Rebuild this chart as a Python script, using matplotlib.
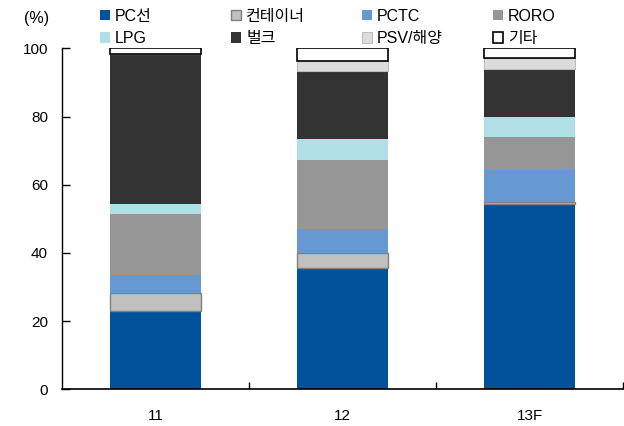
import matplotlib
matplotlib.use('Agg')
import matplotlib.pyplot as plt
import numpy as np

plt.rcParams['font.family'] = ['Liberation Sans', 'Noto Sans CJK KR']

# 데이터 (%)
years = ['11', '12', '13F']
series = ['PC선', '컨테이너', 'PCTC', 'RORO', 'LPG', '벌크', 'PSV/해양', '기타']
pc = [23.0, 35.7, 54.3]
container = [5.3, 4.2, 0.7]
pctc = [5.2, 7.0, 9.4]
roro = [17.9, 20.3, 9.6]
lpg = [2.9, 6.2, 5.9]
bulk = [44.0, 20.0, 14.0]
psv = [0.0, 3.0, 3.2]
etc = [1.7, 3.6, 2.9]

values = [pc, container, pctc, roro, lpg, bulk, psv, etc]
colors = ['#00529B', '#C0C0C0', '#6699D2', '#969696', '#B0DFE5', '#333333', '#DCDCDC', '#FFFFFF']
edges = ['none', '#808080', 'none', 'none', 'none', 'none', '#BDBDBD', '#000000']
lws = [0, 1.0, 0, 0, 0, 0, 0.8, 1.2]

fig = plt.figure(figsize=(6.24, 4.26), dpi=100)
ax = fig.add_axes([62 / 624, 1 - 389.3 / 426, 561 / 624, 341 / 426])

x = np.arange(len(years))
bottom = np.zeros(len(years))
handles = []
for name, vals, c, ec, lw in zip(series, values, colors, edges, lws):
    b = ax.bar(x, vals, width=0.49, bottom=bottom, color=c, edgecolor=ec,
               linewidth=lw, label=name, zorder=2)
    handles.append(b)
    bottom += np.array(vals)

ax.set_xlim(-0.5, 2.5)
ax.set_ylim(0, 100)
ax.set_yticks(range(0, 101, 20))
ax.set_xticks(x)
ax.set_xticklabels(years)
ax.set_xticks([0.5, 1.5, 2.5], minor=True)
ax.tick_params(axis='x', which='major', length=0, pad=14, labelsize=11)
ax.tick_params(axis='x', which='minor', direction='in', length=5, width=1)
ax.tick_params(axis='y', direction='in', length=6, width=1, pad=10, labelsize=11)
ax.spines['top'].set_visible(False)
ax.spines['right'].set_visible(False)
ax.spines['left'].set_linewidth(1)
ax.spines['bottom'].set_linewidth(1.2)

fig.text(24 / 624, 1 - 18 / 426, '(%)', fontsize=11.5, va='center', ha='left')

# 범례: 4열 x 2행
col_x = [100, 231, 362, 493]
for j in range(4):
    fig.legend(handles=[handles[j], handles[j + 4]],
               labels=[series[j], series[j + 4]],
               loc='upper left', bbox_to_anchor=(col_x[j] / 624, 1 - 9 / 426),
               frameon=False, fontsize=11.5, handlelength=0.6, handleheight=0.6,
               handletextpad=0.35, labelspacing=0.45, borderpad=0, borderaxespad=0)

plt.savefig('out.png', dpi=100)
